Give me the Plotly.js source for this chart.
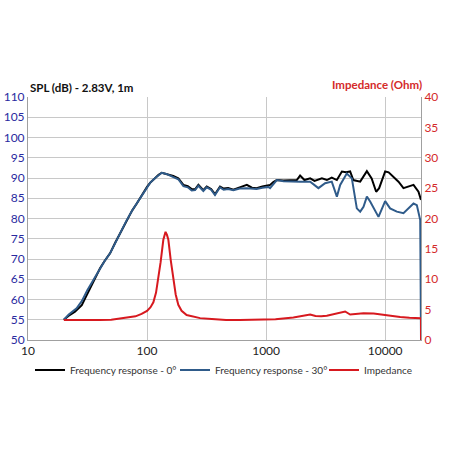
<!DOCTYPE html>
<html>
<head>
<meta charset="utf-8">
<script src="https://cdn.plot.ly/plotly-3.0.1.min.js"></script>
<style>html,body{margin:0;padding:0;background:#fff;}#chart{width:452px;height:452px;}</style>
</head>
<body>
<div id="chart"></div>
<script>
// Frequency response 0°
const freq0 = [20,22,24.8,28.3,30.7,33.2,36,40.3,44,48.9,54,59.3,67.5,75,82,90,100,106,117,125,133,145,155,166,183,202,220,237,253,270,297,317,345,372,410,440,480,531,600,689,760,832,930,1047,1080,1150,1230,1400,1600,1810,1930,2100,2345,2550,2940,3240,3560,3930,4330,4700,5080,5400,6170,7020,7700,8400,8900,10000,10700,12000,12940,14250,16000,17300,19050,20000];
const spl0 = [55,56,57,58.6,60.7,62.8,65,67.7,69.5,71.4,74,76.3,79.6,82,83.7,85.8,87.8,88.8,90,90.8,91.3,91,90.6,90.5,89.9,88.3,88,87.3,87.2,88.3,87,87.9,87.3,86,87.9,87.4,87.5,87.1,87.7,88.3,87.6,87.5,87.9,88.1,88.3,89,89.5,89.4,89.5,89.5,90.6,89.5,89.9,89.3,89.9,89.5,90.1,89.5,91.6,91.4,91.6,89.5,89.1,91.7,89.9,86.6,87.5,91.6,91.4,90,89.1,87.5,88,88.3,86.6,84.6];
// Frequency response 30°
const freq30 = [20,22,25.6,28.3,31.5,34,36,40.3,44,48.9,54,59.3,67.5,75,82,90,100,106,117,125,133,145,155,166,183,202,220,237,253,270,297,317,345,372,410,440,480,531,600,689,760,832,930,1047,1080,1230,1400,1600,1930,2345,2750,3130,3560,3930,4190,4760,5250,5780,6170,6580,7020,7480,8790,10000,11000,12530,14250,17300,18450,19700,20000];
const spl30 = [55,56.3,57.8,59.6,62.3,64,65.2,67.7,69.5,71.4,74,76.3,79.6,82,83.7,85.8,87.8,88.8,90,90.8,91.3,91,90.6,90.3,89.7,88,87.7,86.9,87,88.1,86.8,87.7,87.1,85.8,87.7,87.1,87.3,87,87.4,87.5,87.3,87.3,87.6,87.8,87.5,89.5,89.2,89.1,89.1,89.1,87.5,88.7,89.1,85.4,88.3,91.1,89.9,82.5,81.7,82.9,85.4,84.2,80.4,84.3,82.5,81.7,81.3,83.7,83.3,79.6,50];
// Impedance
const freqZ = [20,30,40,50,60,70,80,90,100,107,113,119,124,130,137,143,147,151,158,166,174,183,195,215,250,279,350,461,600,891,1200,1695,2000,2345,2600,2900,3235,3700,4200,4610,5080,5600,6580,8000,9080,11000,13370,16000,19050,20000,20000];
const imp = [3.3,3.25,3.3,3.35,3.6,3.7,3.9,4.3,4.8,5.4,6.2,7.8,9.9,12.8,16.5,17.8,17.3,16.5,13.2,9.9,7.5,5.8,4.8,4.1,3.8,3.6,3.45,3.3,3.3,3.3,3.4,3.7,3.9,4.2,3.95,3.9,4.0,4.3,4.5,4.7,4.2,4.25,4.4,4.35,4.2,4.0,3.8,3.65,3.6,3.6,0];

const seriesNames = ["Frequency response - 0°","Frequency response - 30°","Impedance"];
const xTicks = [10,100,1000,10000];
const minorX = [20,30,40,50,60,70,80,90,200,300,400,500,600,700,800,900,2000,3000,4000,5000,6000,7000,8000,9000];
const splTicks = [50,55,60,65,70,75,80,85,90,95,100,105,110];
const impTicks = [0,5,10,15,20,25,30,35,40];
const leftTitle = "SPL (dB) - 2.83V, 1m";
const rightTitle = "Impedance (Ohm)";

const FONT = "Lato, 'Open Sans', sans-serif";

const traces = [
  {x: freq0, y: spl0, name: seriesNames[0], type: 'scatter', mode: 'lines',
   line: {color: '#000000', width: 2}, yaxis: 'y', legendwidth: 100},
  {x: freq30, y: spl30, name: seriesNames[1], type: 'scatter', mode: 'lines',
   line: {color: '#2f5b8a', width: 2}, yaxis: 'y', legendwidth: 104},
  {x: freqZ, y: imp, name: seriesNames[2], type: 'scatter', mode: 'lines',
   line: {color: '#d7191f', width: 2}, yaxis: 'y2', legendwidth: 50}
];

const shapes = minorX.map(v => ({
  type: 'line', xref: 'x', yref: 'paper', x0: Math.log10(v), x1: Math.log10(v), y0: 0, y1: 1,
  line: {color: '#d6d6d6', width: 1, dash: 'dash'}, layer: 'below'
}));

const layout = {
  width: 452, height: 452,
  margin: {l: 28, r: 31, t: 97, b: 112},
  paper_bgcolor: '#ffffff', plot_bgcolor: '#ffffff',
  font: {family: FONT, size: 12, color: '#222'},
  title: {text: '<b>' + leftTitle + '</b>', xref: 'container', yref: 'container',
          x: 30 / 452, xanchor: 'left', y: 1 - 88 / 452, yanchor: 'middle',
          font: {family: FONT, size: 11.5, color: '#111'}},
  showlegend: true,
  legend: {orientation: 'h', x: 0.5, xanchor: 'center', y: -0.123, yanchor: 'middle',
           bgcolor: 'rgba(0,0,0,0)',
           font: {family: FONT, size: 10, color: '#333'}, itemwidth: 30, tracegroupgap: 0},
  xaxis: {type: 'log', range: [1, Math.log10(20000)], tickmode: 'array', tickvals: xTicks,
          ticktext: xTicks.map(String), showgrid: true, gridcolor: '#c8c8c8', gridwidth: 1,
          showline: true, linecolor: '#a0a0a0', linewidth: 1, ticks: '', zeroline: false,
          tickfont: {family: FONT, size: 12, color: '#222'}},
  yaxis: {range: [50, 110], tickmode: 'array', tickvals: splTicks, showgrid: true,
          gridcolor: '#c8c8c8', gridwidth: 1, showline: true, linecolor: '#a0a0a0', ticks: '',
          zeroline: false, tickfont: {family: FONT, size: 12, color: '#2a2aa0'}},
  yaxis2: {range: [0, 40], tickmode: 'array', tickvals: impTicks, overlaying: 'y', side: 'right',
           showgrid: false, showline: true, linecolor: '#a0a0a0', ticks: '', zeroline: false,
           tickfont: {family: FONT, size: 12, color: '#d42a2a'}},
  shapes: shapes,
  annotations: [
    {text: '<b>' + rightTitle + '</b>', xref: 'paper', yref: 'paper', x: 1.008, y: 1.05,
     xanchor: 'right', yanchor: 'middle', showarrow: false,
     font: {family: FONT, size: 11.5, color: '#d42a2a'}}
  ]
};

Plotly.newPlot('chart', traces, layout, {displayModeBar: false, staticPlot: true});
</script>
</body>
</html>
